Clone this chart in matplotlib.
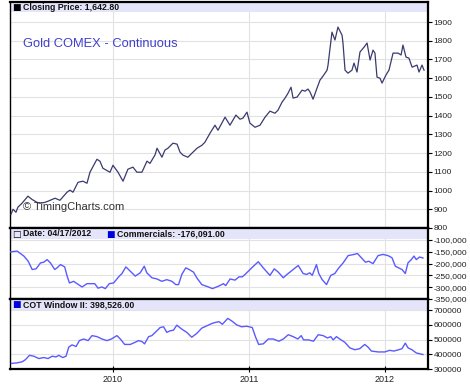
import matplotlib
matplotlib.use("Agg")
import matplotlib.pyplot as plt
from matplotlib.patches import Rectangle
from matplotlib.ticker import FuncFormatter

plt.rcParams['font.family'] = ['Liberation Sans', 'DejaVu Sans']

# Gold COMEX continuous - closing price (decimal year, price)
price_t = [2009.250, 2009.265, 2009.287, 2009.301, 2009.331, 2009.375, 2009.404, 2009.441,
           2009.463, 2009.500, 2009.522, 2009.574, 2009.610, 2009.662, 2009.684, 2009.706,
           2009.743, 2009.779, 2009.809, 2009.831, 2009.882, 2009.904, 2009.926, 2009.978,
           2010.000, 2010.037, 2010.074, 2010.110, 2010.147, 2010.176, 2010.213, 2010.250,
           2010.272, 2010.309, 2010.324, 2010.360, 2010.382, 2010.404, 2010.441, 2010.471,
           2010.493, 2010.515, 2010.551, 2010.581, 2010.618, 2010.654, 2010.676, 2010.713,
           2010.750, 2010.772, 2010.824, 2010.860, 2010.904, 2010.934, 2010.956, 2010.985,
           2011.007, 2011.044, 2011.081, 2011.118, 2011.154, 2011.191, 2011.213, 2011.243,
           2011.265, 2011.287, 2011.309, 2011.324, 2011.353, 2011.390, 2011.412, 2011.434,
           2011.449, 2011.471, 2011.500, 2011.522, 2011.544, 2011.574, 2011.581, 2011.610,
           2011.632, 2011.654, 2011.684, 2011.691, 2011.706, 2011.728, 2011.757, 2011.772,
           2011.794, 2011.816, 2011.846, 2011.868, 2011.890, 2011.912, 2011.926, 2011.941,
           2011.963, 2011.978, 2012.007, 2012.029, 2012.059, 2012.096, 2012.118, 2012.132,
           2012.154, 2012.176, 2012.199, 2012.235, 2012.250, 2012.272, 2012.287]
price = [873, 900, 884, 911, 932, 970, 953, 937,
         932, 937, 943, 959, 948, 991, 1002, 991,
         1044, 1050, 1039, 1098, 1167, 1157, 1119, 1098,
         1135, 1098, 1050, 1114, 1125, 1098, 1098, 1157,
         1145, 1190, 1226, 1178, 1216, 1226, 1253, 1248,
         1205, 1189, 1178, 1200, 1226, 1242, 1258, 1306,
         1349, 1322, 1392, 1349, 1403, 1381, 1387, 1419,
         1360, 1338, 1349, 1392, 1424, 1413, 1429, 1472,
         1494, 1520, 1552, 1494, 1499, 1536, 1531, 1542,
         1526, 1488, 1547, 1590, 1611, 1643, 1670, 1846,
         1804, 1873, 1830, 1788, 1643, 1627, 1643, 1681,
         1633, 1740, 1766, 1788, 1697, 1750, 1734, 1606,
         1600, 1574, 1617, 1643, 1734, 1734, 1724, 1777,
         1713, 1707, 1659, 1670, 1633, 1670, 1642.8]

# Commercials net position
comm_t = [2009.247, 2009.296, 2009.345, 2009.377, 2009.406, 2009.435, 2009.467, 2009.491,
          2009.516, 2009.540, 2009.572, 2009.589, 2009.614, 2009.645, 2009.663, 2009.680,
          2009.711, 2009.736, 2009.773, 2009.809, 2009.866, 2009.890, 2009.919, 2009.944,
          2009.973, 2010.005, 2010.042, 2010.066, 2010.095, 2010.127, 2010.164, 2010.200,
          2010.230, 2010.249, 2010.286, 2010.323, 2010.359, 2010.396, 2010.433, 2010.462,
          2010.482, 2010.506, 2010.535, 2010.560, 2010.592, 2010.616, 2010.653, 2010.702,
          2010.731, 2010.775, 2010.812, 2010.829, 2010.861, 2010.897, 2010.927, 2010.951,
          2010.971, 2011.020, 2011.068, 2011.105, 2011.154, 2011.186, 2011.215, 2011.252,
          2011.279, 2011.340, 2011.362, 2011.398, 2011.423, 2011.447, 2011.465, 2011.496,
          2011.513, 2011.538, 2011.570, 2011.601, 2011.631, 2011.655, 2011.692, 2011.729,
          2011.773, 2011.797, 2011.826, 2011.856, 2011.880, 2011.912, 2011.949, 2011.985,
          2012.022, 2012.051, 2012.076, 2012.100, 2012.125, 2012.149, 2012.169, 2012.193,
          2012.213, 2012.230, 2012.254, 2012.279]
comm = [-150000, -147000, -168000, -190000, -225000, -222000, -197000, -194000,
        -183000, -197000, -225000, -218000, -204000, -214000, -253000, -282000,
        -275000, -285000, -299000, -285000, -285000, -304000, -299000, -306000,
        -285000, -282000, -256000, -242000, -214000, -232000, -253000, -239000,
        -211000, -239000, -260000, -265000, -275000, -268000, -275000, -289000,
        -289000, -246000, -218000, -225000, -236000, -260000, -289000, -299000,
        -306000, -296000, -285000, -293000, -265000, -270000, -256000, -256000,
        -246000, -218000, -192000, -218000, -250000, -222000, -236000, -260000,
        -246000, -218000, -208000, -242000, -246000, -239000, -250000, -204000,
        -242000, -268000, -289000, -250000, -242000, -222000, -197000, -166000,
        -161000, -157000, -175000, -194000, -190000, -200000, -166000, -161000,
        -166000, -175000, -211000, -218000, -225000, -242000, -197000, -183000,
        -168000, -183000, -172000, -176091]

# COT Window II
cot_t = [2009.254, 2009.296, 2009.333, 2009.357, 2009.386, 2009.418, 2009.455, 2009.491,
         2009.523, 2009.553, 2009.582, 2009.601, 2009.631, 2009.655, 2009.675, 2009.699,
         2009.729, 2009.753, 2009.785, 2009.817, 2009.846, 2009.883, 2009.919, 2009.956,
         2009.988, 2010.029, 2010.054, 2010.086, 2010.127, 2010.164, 2010.188, 2010.213,
         2010.232, 2010.262, 2010.286, 2010.323, 2010.347, 2010.372, 2010.396, 2010.421,
         2010.445, 2010.469, 2010.506, 2010.543, 2010.579, 2010.616, 2010.653, 2010.689,
         2010.726, 2010.750, 2010.780, 2010.804, 2010.844, 2010.873, 2010.910, 2010.946,
         2010.983, 2011.024, 2011.049, 2011.071, 2011.105, 2011.142, 2011.178, 2011.220,
         2011.252, 2011.289, 2011.325, 2011.359, 2011.384, 2011.401, 2011.438, 2011.474,
         2011.509, 2011.545, 2011.577, 2011.601, 2011.619, 2011.643, 2011.667, 2011.704,
         2011.741, 2011.778, 2011.814, 2011.851, 2011.875, 2011.900, 2011.949, 2011.998,
         2012.034, 2012.066, 2012.100, 2012.125, 2012.149, 2012.169, 2012.198, 2012.230,
         2012.279]
cot = [338000, 342000, 349000, 364000, 393000, 387000, 371000, 378000,
       371000, 387000, 382000, 393000, 378000, 387000, 449000, 464000,
       453000, 493000, 504000, 493000, 527000, 520000, 504000, 493000,
       504000, 527000, 504000, 467000, 467000, 482000, 493000, 487000,
       471000, 520000, 527000, 560000, 582000, 587000, 549000, 560000,
       564000, 598000, 571000, 549000, 516000, 542000, 578000, 593000,
       609000, 616000, 622000, 604000, 644000, 627000, 600000, 587000,
       591000, 582000, 516000, 467000, 471000, 504000, 504000, 489000,
       504000, 533000, 520000, 504000, 527000, 498000, 498000, 489000,
       533000, 527000, 511000, 520000, 498000, 520000, 504000, 482000,
       444000, 431000, 438000, 467000, 449000, 422000, 416000, 416000,
       427000, 422000, 431000, 438000, 476000, 444000, 431000, 409000,
       398526]

year_ticks = [2010, 2011, 2012]
price_ticks = list(range(800, 2000, 100))
comm_ticks = [-100000, -150000, -200000, -250000, -300000, -350000]
cot_ticks = [300000, 400000, 500000, 600000, 700000]

BAND = '#e4e4fa'
GRID = '#e2e2e2'

fig = plt.figure(figsize=(4.70, 3.88), dpi=100)
fig.patch.set_facecolor('white')
left, width = 10 / 470, 418 / 470
ax1 = fig.add_axes([left, 1 - 228 / 388, width, 226 / 388])
ax2 = fig.add_axes([left, 1 - 299 / 388, width, 71 / 388])
ax3 = fig.add_axes([left, 1 - 369 / 388, width, 70 / 388])


def style(ax, ticks, ylim, band_h, fmt):
    ax.set_xlim(2009.243, 2012.316)
    ax.set_ylim(*ylim)
    ax.set_yticks(ticks)
    ax.yaxis.set_major_formatter(FuncFormatter(fmt))
    ax.yaxis.tick_right()
    ax.tick_params(axis='y', direction='out', length=3, width=0.8, labelsize=6, pad=1,
                   colors='black', labelcolor='#222222')
    ax.set_xticks(year_ticks)
    ax.grid(True, color=GRID, linewidth=0.8)
    ax.set_axisbelow(True)
    for s in ax.spines.values():
        s.set_linewidth(1.6)
        s.set_color('black')
    ax.spines['left'].set_linewidth(1.0)
    ax.add_patch(Rectangle((0, 1 - band_h), 1, band_h, transform=ax.transAxes,
                           facecolor=BAND, edgecolor='none', zorder=1.5))


style(ax1, price_ticks, (800, 2007), 0.046, lambda v, p: f'{v:.0f}')
style(ax2, comm_ticks, (-350000, -49000), 0.155, lambda v, p: f'{v:,.0f}')
style(ax3, cot_ticks, (300000, 776000), 0.16, lambda v, p: f'{v:.0f}')
ax1.tick_params(axis='x', length=0, labelbottom=False)
ax2.tick_params(axis='x', length=0, labelbottom=False)
ax3.tick_params(axis='x', direction='inout', length=4, width=0.8, labelsize=6.5, pad=2,
                labelcolor='#222222')

ax1.plot(price_t, price, color='#3a3a6e', linewidth=0.9, zorder=3)
ax2.plot(comm_t, comm, color='#5a5aff', linewidth=1.0, zorder=3)
ax3.plot(cot_t, cot, color='#5a5aff', linewidth=1.0, zorder=3)

hdr = dict(fontsize=6.3, fontweight='bold', va='center', zorder=4)
sq = dict(fontsize=6.5, va='center', zorder=4, family='DejaVu Sans')
ax1.text(0.005, 0.977, '\u25a0', transform=ax1.transAxes, color='black', **sq)
ax1.text(0.030, 0.977, 'Closing Price: 1,642.80', transform=ax1.transAxes, color='#111111', **hdr)
ax2.text(0.005, 0.915, '\u25a1', transform=ax2.transAxes, color='black', **sq)
ax2.text(0.030, 0.92, 'Date: 04/17/2012', transform=ax2.transAxes, color='#111111', **hdr)
ax2.text(0.231, 0.915, '\u25a0', transform=ax2.transAxes, color='#0000dd', **sq)
ax2.text(0.255, 0.92, 'Commercials: -176,091.00', transform=ax2.transAxes, color='#111111', **hdr)
ax3.text(0.005, 0.915, '\u25a0', transform=ax3.transAxes, color='#0000dd', **sq)
ax3.text(0.030, 0.92, 'COT Window II: 398,526.00', transform=ax3.transAxes, color='#111111', **hdr)

ax1.text(0.032, 0.815, 'Gold COMEX - Continuous', transform=ax1.transAxes,
         fontsize=9.3, color='#4040cc', va='center', zorder=4)
ax1.text(0.030, 0.093, '\u00a9 TimingCharts.com', transform=ax1.transAxes,
         fontsize=8, color='#333333', va='center', zorder=4)

fig.savefig('out.png', dpi=100)
